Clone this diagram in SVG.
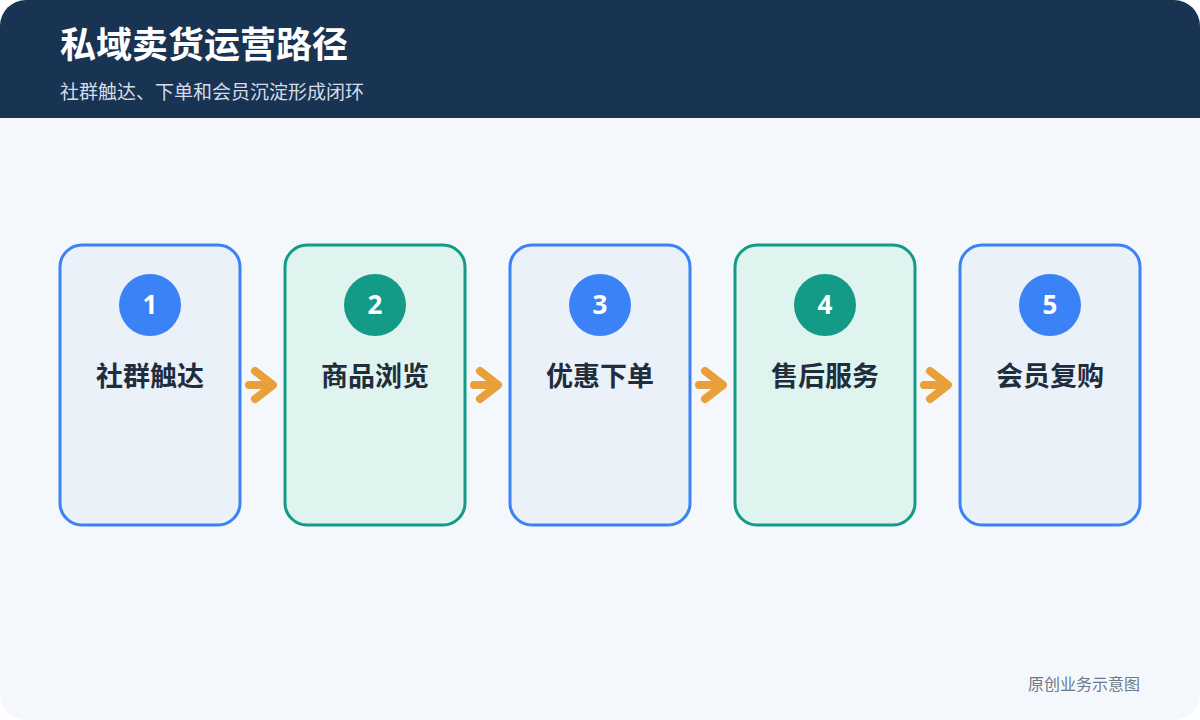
<svg xmlns="http://www.w3.org/2000/svg" width="1200" height="720" viewBox="0 0 1200 720">
<defs>
<clipPath id="frame"><rect x="0" y="0" width="1200" height="720" rx="26" ry="26"/></clipPath>
<style>
.cb{fill:#eaf1f8;stroke:#3b82f6;stroke-width:3}
.ct{fill:#dff3ef;stroke:#139b88;stroke-width:3}
.nb{fill:#3b82f6}
.nt{fill:#139b88}
.num{font-family:"Noto Sans","Noto Sans CJK SC",sans-serif;font-size:26px;font-weight:700;fill:#ffffff;text-anchor:middle}
.lbl{font-family:"Noto Sans CJK SC","Noto Sans",sans-serif;font-size:27px;font-weight:700;fill:#1f2d3d;text-anchor:middle}
.arr{fill:none;stroke:#eaa03a;stroke-width:8;stroke-linecap:round;stroke-linejoin:round}
</style>
</defs>
<rect width="1200" height="720" fill="#ffffff"/>
<g clip-path="url(#frame)">
<rect width="1200" height="720" fill="#f4f8fc"/>
<rect width="1200" height="118" fill="#193352"/>
</g>
<text x="60" y="58" font-family="Noto Sans CJK SC,sans-serif" font-size="36" font-weight="700" fill="#ffffff">私域卖货运营路径</text>
<text x="60" y="99" font-family="Noto Sans CJK SC,sans-serif" font-size="19" fill="#d3dde9">社群触达、下单和会员沉淀形成闭环</text>
<g id="node1">
<rect class="cb" x="60" y="245" width="180" height="280" rx="22"/>
<circle class="nb" cx="150" cy="305" r="31"/>
<text class="num" x="150" y="314">1</text>
<text class="lbl" x="150" y="386">社群触达</text>
</g>
<g id="node2">
<rect class="ct" x="285" y="245" width="180" height="280" rx="22"/>
<circle class="nt" cx="375" cy="305" r="31"/>
<text class="num" x="375" y="314">2</text>
<text class="lbl" x="375" y="386">商品浏览</text>
</g>
<g id="node3">
<rect class="cb" x="510" y="245" width="180" height="280" rx="22"/>
<circle class="nb" cx="600" cy="305" r="31"/>
<text class="num" x="600" y="314">3</text>
<text class="lbl" x="600" y="386">优惠下单</text>
</g>
<g id="node4">
<rect class="ct" x="735" y="245" width="180" height="280" rx="22"/>
<circle class="nt" cx="825" cy="305" r="31"/>
<text class="num" x="825" y="314">4</text>
<text class="lbl" x="825" y="386">售后服务</text>
</g>
<g id="node5">
<rect class="cb" x="960" y="245" width="180" height="280" rx="22"/>
<circle class="nb" cx="1050" cy="305" r="31"/>
<text class="num" x="1050" y="314">5</text>
<text class="lbl" x="1050" y="386">会员复购</text>
</g>
<g id="connectors">
<path class="arr" d="M249,385 L272,385 M255,371 L273,385 L255,399"/>
<path class="arr" d="M474,385 L497,385 M480,371 L498,385 L480,399"/>
<path class="arr" d="M699,385 L722,385 M705,371 L723,385 L705,399"/>
<path class="arr" d="M924,385 L947,385 M930,371 L948,385 L930,399"/>
</g>
<text x="1140" y="690" text-anchor="end" font-family="Noto Sans CJK SC,sans-serif" font-size="16" fill="#6b7a8f">原创业务示意图</text>
</svg>
